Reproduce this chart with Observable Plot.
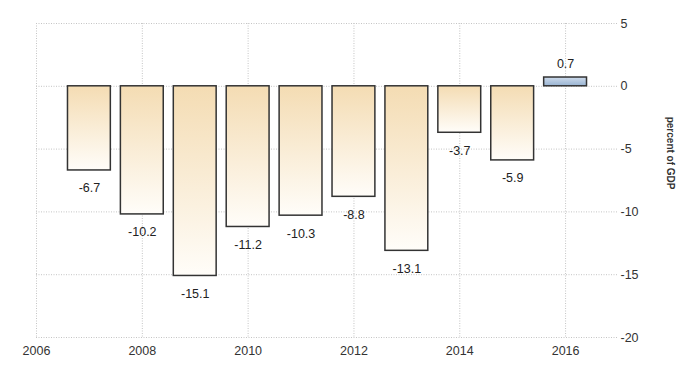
<!DOCTYPE html>
<html>
<head>
<meta charset="utf-8">
<script src="https://cdn.jsdelivr.net/npm/d3@7"></script>
<script src="https://cdn.jsdelivr.net/npm/@observablehq/plot@0.6"></script>
<style>
  body { margin: 0; background: #fff; }
  #chart svg { display: block; }
</style>
</head>
<body>
<div id="chart"></div>
<script>
const years = [2007, 2008, 2009, 2010, 2011, 2012, 2013, 2014, 2015, 2016];
const values = [-6.7, -10.2, -15.1, -11.2, -10.3, -8.8, -13.1, -3.7, -5.9, 0.7];
const xTicks = [2006, 2008, 2010, 2012, 2014, 2016];
const yTicks = [5, 0, -5, -10, -15, -20];
const yLabel = "percent of GDP";

const data = years.map((y, i) => ({year: y, value: values[i]}));
const half = 0.405;
const font = "'Liberation Sans Narrow', 'Liberation Sans', Arial, sans-serif";

const chart = Plot.plot({
  width: 700,
  height: 375,
  marginLeft: 36,
  marginRight: 82,
  marginTop: 23,
  marginBottom: 38,
  style: {fontFamily: font, fontSize: "12px", color: "#333", background: "#fff"},
  x: {domain: [2006, 2017]},
  y: {domain: [-20, 5]},
  marks: [
    Plot.gridX(xTicks, {stroke: "#c4c4c4", strokeOpacity: 1, strokeDasharray: "1,1.5"}),
    Plot.gridY(yTicks, {stroke: "#c4c4c4", strokeOpacity: 1, strokeDasharray: "1,1.5"}),
    Plot.axisX({ticks: xTicks, tickFormat: d => String(d), tickSize: 0, tickPadding: 9, label: null, fontSize: 12.5}),
    Plot.axisY({ticks: yTicks, anchor: "right", tickSize: 0, tickPadding: 2, label: null, fontSize: 12.5, textAnchor: "start", tickFormat: d => String(d)}),
    Plot.rectY(data, {
      x1: d => d.year - half, x2: d => d.year + half,
      y1: 0, y2: "value",
      fill: d => d.value < 0 ? "url(#tanGrad)" : "url(#blueGrad)",
      stroke: "#333", strokeWidth: 1.5
    }),
    Plot.text(data.filter(d => d.value < 0), {
      x: "year", y: "value",
      text: d => d.value.toFixed(1),
      dy: 18, fontSize: 12.5, fill: "#222"
    }),
    Plot.text(data.filter(d => d.value >= 0), {
      x: "year", y: "value",
      text: d => d.value.toFixed(1),
      dy: -14, fontSize: 12.5, fill: "#222"
    }),
    Plot.text([yLabel], {frameAnchor: "right", dx: 52, dy: 9, rotate: 90, fontSize: 10, fontWeight: "bold", fill: "#333"})
  ]
});

// gradients
const svg = d3.select(chart);
const defs = svg.insert("defs", ":first-child");
const tan = defs.append("linearGradient").attr("id", "tanGrad").attr("x1", 0).attr("y1", 0).attr("x2", 0).attr("y2", 1);
tan.append("stop").attr("offset", "0%").attr("stop-color", "#f4dcb3");
tan.append("stop").attr("offset", "100%").attr("stop-color", "#fffdf9");
const blue = defs.append("linearGradient").attr("id", "blueGrad").attr("x1", 0).attr("y1", 0).attr("x2", 0).attr("y2", 1);
blue.append("stop").attr("offset", "0%").attr("stop-color", "#cfdcec");
blue.append("stop").attr("offset", "100%").attr("stop-color", "#98b3d2");

document.getElementById("chart").appendChild(chart);
</script>
</body>
</html>
